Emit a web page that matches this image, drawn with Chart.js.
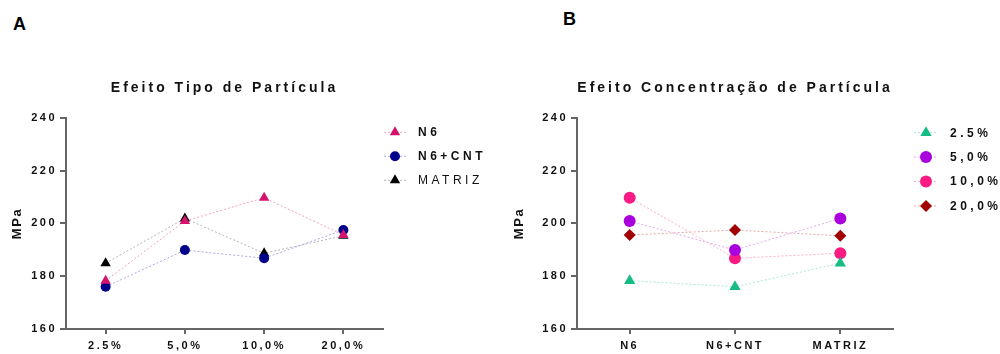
<!DOCTYPE html>
<html lang="pt">
<head>
  <meta charset="UTF-8">
  <title>Efeito Tipo e Concentração de Partícula</title>
  <script src="https://cdn.jsdelivr.net/npm/chart.js"></script>
  <style>
    html, body { margin: 0; padding: 0; background: #fff; }
    body { width: 1000px; height: 354px; position: relative; overflow: hidden; font-family: 'Liberation Sans', Arial, sans-serif; }
    .panel { position: absolute; top: 0; width: 500px; height: 354px; }
    .tag { position: absolute; font-weight: bold; font-size: 18px; line-height: 18px; color: #000; }
  </style>
</head>
<body>
  <div class="tag" style="left:13px;top:15px">A</div>
  <div class="tag" style="left:563px;top:10px">B</div>
  <div class="panel" style="left:0"><canvas id="chartA" width="500" height="354"></canvas></div>
  <div class="panel" style="left:500px"><canvas id="chartB" width="500" height="354"></canvas></div>

  <script>
    // data
    const concentrations = ['2.5%', '5,0%', '10,0%', '20,0%'];
    const materials = ['N6', 'N6+CNT', 'MATRIZ'];
    const n6 = [178.3, 200.9, 209.7, 195.6];
    const n6Cnt = [176.0, 189.9, 186.8, 197.5];
    const matriz = [184.9, 201.9, 188.7, 195.3];
    const yTicks = [160, 180, 200, 220, 240];

    const FONT = "'Liberation Sans', Arial, sans-serif";
    Chart.defaults.font.family = FONT;
    Chart.defaults.color = '#111';

    // marker / line styles
    const materialStyle = [
      { fill: '#d6136c', line: '#f3a3c4', shape: 'triangle', r: 6 },
      { fill: '#00008b', line: '#a9a9e2', shape: 'circle', r: 5 },
      { fill: '#000000', line: '#b4b4b4', shape: 'triangle', r: 6 }
    ];
    const concStyle = [
      { fill: '#15bd82', line: '#a6ebd3', shape: 'triangle', r: 6.5 },
      { fill: '#aa00dd', line: '#e9a6f5', shape: 'circle', r: 6 },
      { fill: '#fa1a84', line: '#fbaccd', shape: 'circle', r: 6 },
      { fill: '#a20000', line: '#e3a9a9', shape: 'rectRot', r: 6 }
    ];

    // run a draw method with its own canvas letter spacing
    function withSpacing(obj, name, px) {
      if (!obj || obj['__sp_' + name]) return;
      const orig = obj[name];
      obj[name] = function () {
        const c = this.ctx;
        const prev = c.letterSpacing;
        c.letterSpacing = px;
        orig.apply(this, arguments);
        c.letterSpacing = prev;
      };
      obj['__sp_' + name] = true;
    }

    // reference text is widely tracked
    const spacing = {
      id: 'spacing',
      beforeUpdate(chart) { chart.ctx.letterSpacing = '2.5px'; },
      afterLayout(chart) { withSpacing(chart.titleBlock, 'draw', '3px'); },
      beforeDraw(chart) { chart.ctx.letterSpacing = '2.5px'; }
    };

    // legend on the right: dotted line + marker + label
    const sideLegend = {
      id: 'sideLegend',
      afterDraw(chart, args, opts) {
        const ctx = chart.ctx;
        ctx.save();
        ctx.letterSpacing = '3.5px';
        chart.data.datasets.forEach((ds, i) => {
          const y = opts.y + i * opts.step;
          ctx.strokeStyle = ds.borderColor;
          ctx.lineWidth = 1;
          ctx.setLineDash([2, 2]);
          ctx.beginPath();
          ctx.moveTo(opts.x - opts.half, y);
          ctx.lineTo(opts.x + opts.half, y);
          ctx.stroke();
          ctx.setLineDash([]);
          ctx.fillStyle = ds.pointBackgroundColor;
          Chart.helpers.drawPoint(ctx, { pointStyle: ds.pointStyle, radius: ds.pointRadius, rotation: 0, borderWidth: 0 }, opts.x, y);
          const weight = (opts.normal || []).includes(ds.label) ? 'normal' : 'bold';
          ctx.font = weight + ' 12px ' + FONT;
          ctx.fillStyle = '#111';
          ctx.textAlign = 'left';
          ctx.textBaseline = 'middle';
          ctx.fillText(ds.label, opts.textX, y + 0.5);
        });
        ctx.restore();
      }
    };

    function makeDataset(label, data, st) {
      return {
        label: label,
        data: data,
        borderColor: st.line,
        borderWidth: 1,
        borderDash: [2, 2],
        tension: 0,
        pointStyle: st.shape,
        pointRadius: st.r,
        pointBackgroundColor: st.fill,
        pointBorderColor: st.fill,
        pointBorderWidth: 0
      };
    }

    function makeOptions(title, yWidth, rightPad, yTitlePad, legendOpts) {
      return {
        responsive: false,
        animation: false,
        events: [],
        layout: { padding: { left: 0, right: rightPad, top: 0, bottom: 0 } },
        plugins: {
          legend: { display: false },
          tooltip: { enabled: false },
          title: {
            display: true,
            text: title,
            fullSize: false,
            color: '#111',
            font: { size: 14, weight: 'bold' },
            padding: { top: 80, bottom: 21 }
          },
          sideLegend: legendOpts
        },
        scales: {
          x: {
            offset: true,
            grid: { display: true, drawOnChartArea: false, tickLength: 5, color: '#666', lineWidth: 2 },
            border: { color: '#666', width: 2 },
            ticks: { color: '#111', font: { size: 11, weight: 'bold' }, padding: 5, maxRotation: 0, autoSkip: false },
            afterFit(s) { s.height = 25; }
          },
          y: {
            min: yTicks[0],
            max: yTicks[yTicks.length - 1],
            grid: { display: true, drawOnChartArea: false, tickLength: 6, color: '#666', lineWidth: 2 },
            border: { color: '#666', width: 2 },
            ticks: { color: '#111', font: { size: 11, weight: 'bold' }, padding: 3 },
            title: { display: true, text: 'MPa', color: '#111', font: { size: 13, weight: 'bold' }, padding: { top: yTitlePad, bottom: 0 } },
            afterBuildTicks(s) { s.ticks = yTicks.map(v => ({ value: v })); },
            afterFit(s) {
              s.width = yWidth;
              withSpacing(s, 'drawTitle', '1.6px');
            }
          }
        }
      };
    }

    // A: type of particle, x = concentration
    const seriesA = [n6, n6Cnt, matriz];
    new Chart(document.getElementById('chartA'), {
      type: 'line',
      data: {
        labels: concentrations,
        datasets: materials.map((m, i) => makeDataset(m, seriesA[i], materialStyle[i]))
      },
      options: makeOptions('Efeito Tipo de Partícula', 66, 117, 10,
        { x: 395, half: 11, textX: 418, y: 132.3, step: 24, normal: ['MATRIZ'] }),
      plugins: [spacing, sideLegend]
    });

    // B: concentration, x = material
    new Chart(document.getElementById('chartB'), {
      type: 'line',
      data: {
        labels: materials,
        datasets: concentrations.map((c, i) =>
          makeDataset(c, seriesA.map(s => s[i]), concStyle[i]))
      },
      options: makeOptions('Efeito Concentração de Partícula', 77, 107, 12,
        { x: 426, half: 12, textX: 450, y: 132.7, step: 24.4 }),
      plugins: [spacing, sideLegend]
    });
  </script>
</body>
</html>
